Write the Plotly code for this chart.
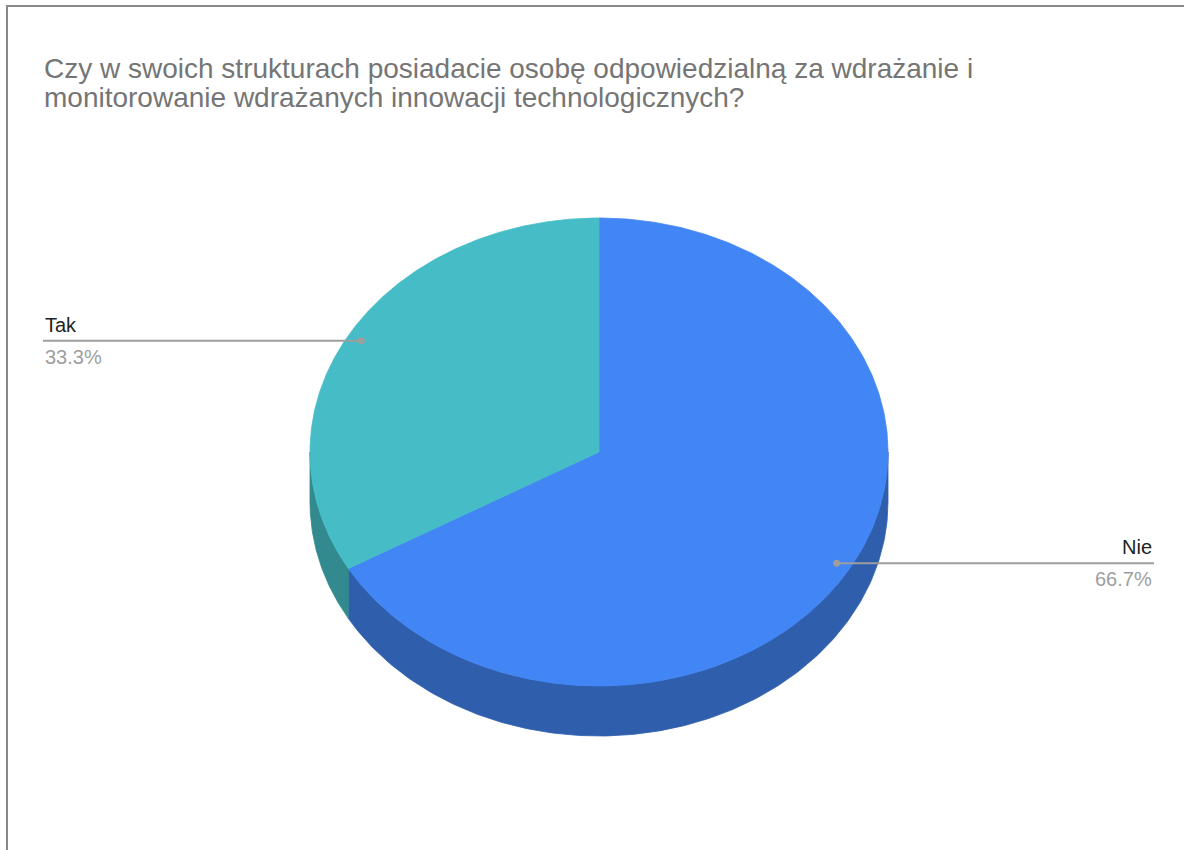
import numpy as np
import plotly.graph_objects as go

# Survey answers (percent of respondents)
labels = ["Nie", "Tak"]
values = [66.7, 33.3]
pct_text = ["66.7%", "33.3%"]
top_colors = ["#4285F4", "#46BDC6"]
side_colors = ["#2E5EAC", "#328A8F"]

title_lines = [
    "Czy w swoich strukturach posiadacie osobę odpowiedzialną za wdrażanie i",
    "monitorowanie wdrażanych innowacji technologicznych?",
]

# Canvas and pie geometry (pixel units on hidden axes)
W, H = 1184, 850
CX, CY = 599, 452
RX, RY = 289, 234
DEPTH = 50
LABEL_LEFT_X, LABEL_RIGHT_X = 43, 1154
ANCHOR_FRAC = 0.95
FONT = "Liberation Sans, Arial, sans-serif"


def ellipse_pts(angles_deg, frac=1.0, dy=0.0):
    t = np.radians(angles_deg)
    return CX + frac * RX * np.cos(t), CY - frac * RY * np.sin(t) + dy


def front_parts(a_hi, a_lo):
    """Pieces of the angle span [a_lo, a_hi] lying on the front (lower) half."""
    parts = []
    for k in range(-3, 3):
        lo, hi = 180 + 360 * k, 360 + 360 * k
        s, e = max(a_lo, lo), min(a_hi, hi)
        if e > s:
            parts.append((s, e))
    return parts


fig = go.Figure()

# Slice spans: clockwise from 12 o'clock
total = sum(values)
spans = []
start = 90.0
for v in values:
    sweep = 360.0 * v / total
    spans.append((start, start - sweep))
    start -= sweep

# Extruded sides first
for (a0, a1), col in zip(spans, side_colors):
    for s, e in front_parts(a0, a1):
        ang = np.linspace(s, e, 200)
        xt, yt = ellipse_pts(ang)
        xb, yb = ellipse_pts(ang[::-1], dy=DEPTH)
        xs = np.concatenate([xt, xb, xt[:1]])
        ys = np.concatenate([yt, yb, yt[:1]])
        fig.add_trace(go.Scatter(x=xs, y=ys, mode="lines", fill="toself",
                                 fillcolor=col, line=dict(color=col, width=0.8),
                                 hoverinfo="skip", showlegend=False))

# Top faces
for (a0, a1), col in zip(spans, top_colors):
    ang = np.linspace(a0, a1, 400)
    xe, ye = ellipse_pts(ang)
    xs = np.concatenate([[CX], xe, [CX]])
    ys = np.concatenate([[CY], ye, [CY]])
    fig.add_trace(go.Scatter(x=xs, y=ys, mode="lines", fill="toself",
                             fillcolor=col, line=dict(color=col, width=0.8),
                             hoverinfo="skip", showlegend=False))

# Leader lines and labels
annotations = []
for (a0, a1), lab, pct in zip(spans, labels, pct_text):
    mid = (a0 + a1) / 2.0
    ax, ay = ellipse_pts(np.array([mid]), frac=ANCHOR_FRAC)
    ax, ay = float(ax[0]), float(ay[0])
    left = np.cos(np.radians(mid)) < 0
    tx = LABEL_LEFT_X if left else LABEL_RIGHT_X
    fig.add_trace(go.Scatter(x=[tx, ax], y=[ay, ay], mode="lines",
                             line=dict(color="#9E9E9E", width=2),
                             hoverinfo="skip", showlegend=False))
    fig.add_trace(go.Scatter(x=[ax], y=[ay], mode="markers",
                             marker=dict(color="#9E9E9E", size=7),
                             hoverinfo="skip", showlegend=False))
    xanchor = "left" if left else "right"
    annotations.append(dict(x=tx, y=ay - 16, xref="x", yref="y", text=lab,
                            showarrow=False, xanchor=xanchor, yanchor="middle",
                            font=dict(family=FONT, size=20, color="#222222")))
    annotations.append(dict(x=tx, y=ay + 16, xref="x", yref="y", text=pct,
                            showarrow=False, xanchor=xanchor, yanchor="middle",
                            font=dict(family=FONT, size=20, color="#9E9E9E")))

# Title
for i, line in enumerate(title_lines):
    annotations.append(dict(x=42, y=68 + 29 * i, xref="x", yref="y", text=line,
                            showarrow=False, xanchor="left", yanchor="middle",
                            font=dict(family=FONT, size=28, color="#757575")))

fig.update_layout(
    width=W, height=H,
    margin=dict(l=0, r=0, t=0, b=0),
    paper_bgcolor="white", plot_bgcolor="white",
    xaxis=dict(range=[0, W], visible=False, fixedrange=True),
    yaxis=dict(range=[H, 0], visible=False, fixedrange=True),
    annotations=annotations,
    shapes=[dict(type="rect", xref="x", yref="y", x0=7, y0=6, x1=W + 20, y1=H + 20,
                 line=dict(color="#888888", width=2), fillcolor="rgba(0,0,0,0)",
                 layer="above")],
)

fig.write_html("out.html")
